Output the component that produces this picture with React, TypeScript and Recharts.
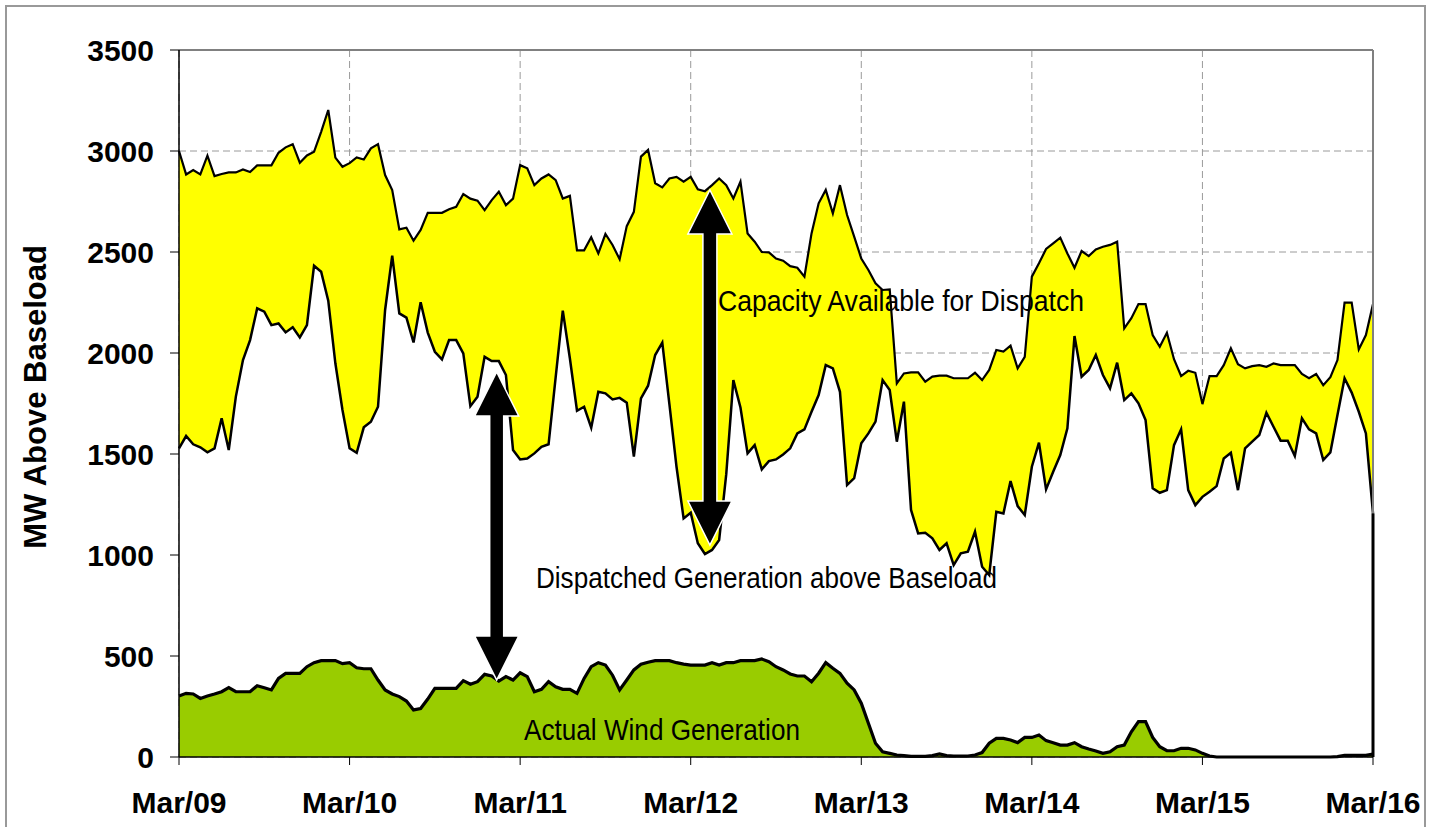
import React from "react";
import { AreaChart, Area, XAxis, YAxis, CartesianGrid, ReferenceLine } from "recharts";

// hourly values, Mar/09 00:00 .. Mar/16 00:00 (169 points)
const capacity = [
  3000, 2884, 2906, 2884, 2977, 2876, 2886, 2894, 2894, 2909,
  2896, 2929, 2929, 2929, 2991, 3018, 3034, 2942, 2978, 2996,
  3095, 3203, 2967, 2922, 2940, 2968, 2958, 3013, 3034, 2881,
  2807, 2612, 2620, 2556, 2609, 2694, 2694, 2694, 2712, 2724,
  2787, 2764, 2754, 2707, 2757, 2798, 2732, 2764, 2930, 2914,
  2831, 2864, 2884, 2856, 2765, 2778, 2508, 2508, 2573, 2493,
  2589, 2535, 2464, 2628, 2699, 2972, 3005, 2840, 2820, 2864,
  2872, 2848, 2872, 2810, 2801, 2831, 2864, 2831, 2765, 2848,
  2592, 2551, 2500, 2498, 2468, 2457, 2430, 2422, 2378, 2592,
  2741, 2807, 2691, 2831, 2683, 2576, 2468, 2411, 2345, 2312,
  2315, 1850, 1899, 1904, 1904, 1858, 1883, 1888, 1888, 1875,
  1875, 1875, 1902, 1866, 1916, 2015, 2007, 2036, 1924, 1981,
  2378, 2444, 2515, 2543, 2571, 2493, 2422, 2505, 2480, 2513,
  2526, 2535, 2551, 2122, 2172, 2242, 2242, 2089, 2031, 2100,
  1969, 1886, 1912, 1902, 1747, 1886, 1886, 1940, 2023, 1945,
  1924, 1935, 1940, 1932, 1948, 1940, 1940, 1940, 1896, 1875,
  1896, 1841, 1880, 1965, 2249, 2249, 2018, 2089, 2242,
];

const dispatched = [
  1528, 1589, 1548, 1533, 1508, 1528, 1677, 1520, 1784, 1965,
  2064, 2221, 2205, 2138, 2146, 2102, 2127, 2077, 2138, 2432,
  2402, 2259, 1949, 1718, 1528, 1506, 1632, 1660, 1734, 2213,
  2482, 2196, 2175, 2052, 2251, 2101, 2006, 1968, 2064, 2064,
  1998, 1737, 1784, 1981, 1960, 1960, 1891, 1520, 1473, 1478,
  1503, 1536, 1548, 1880, 2210, 1973, 1714, 1734, 1630, 1808,
  1800, 1770, 1778, 1754, 1487, 1775, 1838, 1990, 2051, 1747,
  1437, 1181, 1209, 1058, 1005, 1025, 1074, 1400, 1866, 1730,
  1503, 1544, 1424, 1465, 1473, 1498, 1528, 1602, 1622, 1709,
  1792, 1940, 1924, 1808, 1346, 1380, 1553, 1602, 1660, 1866,
  1817, 1561, 1759, 1223, 1107, 1110, 1083, 1025, 1058, 950,
  1008, 1016, 1115, 942, 901, 1214, 1206, 1366, 1242, 1198,
  1437, 1556, 1325, 1412, 1495, 1627, 2084, 1883, 1916, 1990,
  1891, 1825, 1952, 1767, 1800, 1751, 1668, 1330, 1308, 1321,
  1544, 1622, 1321, 1247, 1288, 1313, 1341, 1478, 1506, 1321,
  1528, 1561, 1594, 1704, 1635, 1566, 1566, 1490, 1677, 1622,
  1602, 1470, 1508, 1693, 1875, 1804, 1709, 1602, 1206,
];

const wind = [
  302, 315, 312, 290, 302, 312, 323, 343, 323, 323,
  323, 353, 343, 332, 389, 414, 414, 414, 447, 467,
  477, 477, 477, 462, 467, 442, 437, 437, 381, 332,
  312, 299, 277, 233, 240, 287, 340, 340, 340, 340,
  378, 360, 373, 409, 401, 376, 398, 381, 417, 398,
  323, 335, 373, 348, 335, 335, 315, 389, 447, 467,
  455, 405, 332, 381, 431, 459, 469, 477, 477, 477,
  467, 460, 455, 455, 455, 467, 455, 467, 467, 477,
  477, 477, 485, 472, 447, 431, 411, 401, 401, 373,
  415, 467, 439, 414, 365, 332, 266, 167, 68, 26,
  18, 10, 7, 3, 3, 3, 7, 15, 7, 5,
  5, 5, 10, 22, 68, 92, 92, 84, 71, 97,
  97, 109, 81, 71, 59, 59, 71, 51, 40, 30,
  18, 26, 51, 59, 125, 175, 175, 97, 51, 31,
  31, 43, 43, 35, 18, 5, 0, 0, 0, 0,
  0, 0, 0, 0, 0, 0, 0, 0, 0, 0,
  0, 0, 0, 2, 8, 8, 8, 8, 15,
];

const dayLabels = ["Mar/09", "Mar/10", "Mar/11", "Mar/12", "Mar/13", "Mar/14", "Mar/15", "Mar/16"];
const dayTicks = dayLabels.map((_, i) => i * 24);
const yTicks = [0, 500, 1000, 1500, 2000, 2500, 3000, 3500];

// double arrows: [hour, top MW, bottom MW]
const arrows = [
  [74.7, 2807, 1049],
  [44.7, 1906, 381],
];

const data = capacity.map((c, i) => ({
  h: i,
  capacity: c,
  dispatched: dispatched[i],
  wind: wind[i],
}));

const last = data.length - 1;

const AXIS_FONT = "'Liberation Sans', Arial, sans-serif";
const NOTE_FONT = "'Liberation Sans Narrow', 'Arial Narrow', 'Liberation Sans', sans-serif";

const ArrowShape = (props: any) => {
  const { x1, y1, x2, y2 } = props;
  const x = (x1 + x2) / 2;
  const top = Math.min(y1, y2);
  const bot = Math.max(y1, y2);
  const hl = 44, hw = 22, sw = 7;
  const d = `M${x},${top} L${x + hw},${top + hl} L${x + sw},${top + hl} L${x + sw},${bot - hl} L${x + hw},${bot - hl} L${x},${bot} L${x - hw},${bot - hl} L${x - sw},${bot - hl} L${x - sw},${top + hl} L${x - hw},${top + hl} Z`;
  return <path d={d} fill="#000" stroke="#fff" strokeWidth={1.5} />;
};

const EdgeShape = (props: any) => {
  const { x1, y1, x2, y2 } = props;
  return <line x1={x1} y1={y1} x2={x2} y2={y2} stroke="#000" strokeWidth={3} />;
};

export default function App() {
  return (
    <div style={{ position: "fixed", left: 0, top: 0, width: 1438, height: 827, overflow: "hidden", background: "#fff" }}>
      <div style={{ position: "absolute", left: 0, top: 0 }}>
        <AreaChart width={1438} height={827} data={data} margin={{ top: 50, right: 65, bottom: 0, left: 79 }}>
          <CartesianGrid stroke="#9a9a9a" strokeDasharray="7 4" strokeWidth={1} />
          <XAxis
            dataKey="h"
            type="number"
            domain={[0, 168]}
            ticks={dayTicks}
            tickFormatter={(v) => dayLabels[Math.round(v / 24)]}
            height={70}
            axisLine={{ stroke: "#000", strokeWidth: 1.5 }}
            tickLine={{ stroke: "#000", strokeWidth: 1 }}
            tickSize={8}
            tickMargin={27}
            interval={0}
            tick={{ fontSize: 30, fontWeight: "bold", fill: "#000", fontFamily: AXIS_FONT }}
          />
          <YAxis
            type="number"
            domain={[0, 3500]}
            ticks={yTicks}
            width={100}
            axisLine={{ stroke: "#000", strokeWidth: 1.5 }}
            tickLine={{ stroke: "#000", strokeWidth: 1 }}
            tickSize={9}
            tickMargin={16}
            interval={0}
            tick={{ fontSize: 30, fontWeight: "bold", fill: "#000", fontFamily: AXIS_FONT }}
          />
          <Area
            type="linear"
            dataKey="capacity"
            stroke="#000"
            strokeWidth={2.2}
            fill="#ffff00"
            fillOpacity={1}
            dot={false}
            activeDot={false}
            isAnimationActive={false}
          />
          <Area
            type="linear"
            dataKey="dispatched"
            stroke="#000"
            strokeWidth={2.5}
            fill="#ffffff"
            fillOpacity={1}
            dot={false}
            activeDot={false}
            isAnimationActive={false}
          />
          <Area
            type="linear"
            dataKey="wind"
            stroke="#000"
            strokeWidth={3.2}
            fill="#99cc00"
            fillOpacity={1}
            dot={false}
            activeDot={false}
            isAnimationActive={false}
          />
          <ReferenceLine y={3500} stroke="#808080" strokeWidth={2} />
          <ReferenceLine x={168} stroke="#808080" strokeWidth={2} />
          <ReferenceLine
            segment={[{ x: last, y: 0 }, { x: last, y: dispatched[last] }]}
            shape={EdgeShape}
          />
          {arrows.map(([h, top, bot], i) => (
            <ReferenceLine
              key={i}
              segment={[{ x: h, y: top }, { x: h, y: bot }]}
              shape={ArrowShape}
            />
          ))}
        </AreaChart>
      </div>
      <svg
        width={1438}
        height={827}
        style={{ position: "absolute", left: 0, top: 0, pointerEvents: "none" }}
      >
        {/* outer frame */}
        <rect x={6} y={6} width={1419} height={840} fill="none" stroke="#999" strokeWidth={2} />
        <text
          transform="translate(46,397) rotate(-90)"
          textAnchor="middle"
          fontFamily={AXIS_FONT}
          fontWeight="bold"
          fontSize={31}
          fill="#000"
        >
          MW Above Baseload
        </text>
        <text x={718} y={311} fontFamily={NOTE_FONT} fontSize={30} fill="#000" textLength={366} lengthAdjust="spacingAndGlyphs">
          Capacity Available for Dispatch
        </text>
        <text x={536} y={588} fontFamily={NOTE_FONT} fontSize={30} fill="#000" textLength={461} lengthAdjust="spacingAndGlyphs">
          Dispatched Generation above Baseload
        </text>
        <text x={524} y={740} fontFamily={NOTE_FONT} fontSize={30} fill="#000" textLength={276} lengthAdjust="spacingAndGlyphs">
          Actual Wind Generation
        </text>
      </svg>
    </div>
  );
}
